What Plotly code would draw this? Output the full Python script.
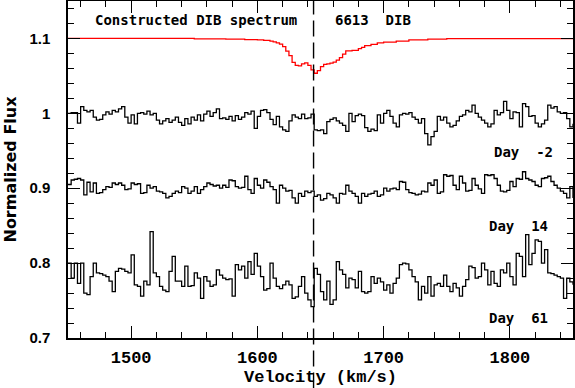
import numpy as np
import plotly.graph_objects as go

# velocity grid of the observed spectra (bin start, km/s)
velocity = np.arange(1450, 1850.1, 2.5)

day_m2 = [
    1.000, 1.001, 1.001, 0.987, 1.009, 1.004, 1.002, 1.004, 0.995, 0.991,
    0.992, 0.998, 1.002, 0.999, 1.004, 1.002, 1.006, 1.009, 0.995, 0.987,
    0.998, 0.986, 1.000, 1.001, 0.999, 1.003, 0.998, 1.000, 0.991, 0.986,
    0.990, 0.993, 0.988, 0.991, 0.995, 0.988, 0.984, 0.993, 0.986, 0.995,
    0.991, 0.998, 0.990, 0.999, 1.003, 0.996, 1.001, 1.006, 0.993, 0.994,
    0.992, 0.996, 0.990, 0.997, 0.992, 0.995, 1.001, 0.999, 1.003, 0.980,
    0.996, 1.004, 1.005, 1.001, 0.992, 0.985, 0.996, 0.982, 0.978, 0.976,
    0.990, 0.998, 0.995, 0.993, 0.999, 0.993, 0.994, 0.999, 0.978, 0.977,
    0.978, 0.973, 0.989, 0.992, 0.994, 0.990, 0.987, 0.984, 0.976, 1.000,
    0.989, 0.997, 0.999, 0.997, 0.981, 0.976, 0.979, 0.977, 0.998, 0.987,
    1.000, 1.004, 0.996, 0.987, 0.982, 0.998, 1.000, 0.999, 1.001, 0.995,
    0.992, 0.987, 0.993, 0.973, 0.958, 0.969, 0.976, 0.996, 0.991, 0.995,
    0.987, 0.982, 0.984, 0.990, 0.996, 0.998, 1.004, 1.002, 1.011, 1.000,
    0.995, 0.991, 0.987, 0.982, 0.986, 1.004, 0.998, 1.001, 1.016, 1.004,
    0.993, 1.002, 1.001, 0.982, 1.013, 1.009, 0.996, 0.997, 0.987, 0.982,
    0.986, 0.991, 1.011, 1.007, 1.009, 1.002, 1.000, 1.001, 0.993, 0.982,
    0.986,
]

day_14 = [
    0.905, 0.911, 0.912, 0.913, 0.911, 0.891, 0.908, 0.895, 0.907, 0.893,
    0.894, 0.898, 0.902, 0.901, 0.907, 0.905, 0.907, 0.904, 0.898, 0.899,
    0.907, 0.905, 0.906, 0.893, 0.894, 0.904, 0.900, 0.902, 0.896, 0.895,
    0.893, 0.887, 0.889, 0.893, 0.896, 0.894, 0.902, 0.900, 0.893, 0.896,
    0.902, 0.893, 0.898, 0.902, 0.907, 0.905, 0.903, 0.904, 0.900, 0.904,
    0.901, 0.911, 0.910, 0.902, 0.900, 0.901, 0.916, 0.898, 0.893, 0.913,
    0.904, 0.900, 0.911, 0.908, 0.902, 0.898, 0.880, 0.904, 0.900, 0.896,
    0.897, 0.887, 0.880, 0.893, 0.889, 0.896, 0.894, 0.896, 0.889, 0.891,
    0.884, 0.886, 0.893, 0.891, 0.887, 0.880, 0.893, 0.892, 0.904, 0.896,
    0.893, 0.889, 0.880, 0.893, 0.889, 0.892, 0.893, 0.896, 0.889, 0.891,
    0.900, 0.896, 0.899, 0.900, 0.898, 0.909, 0.908, 0.898, 0.894, 0.893,
    0.891, 0.892, 0.896, 0.895, 0.907, 0.904, 0.911, 0.893, 0.895, 0.918,
    0.916, 0.917, 0.904, 0.898, 0.916, 0.907, 0.896, 0.897, 0.913, 0.904,
    0.899, 0.893, 0.918, 0.917, 0.918, 0.913, 0.904, 0.896, 0.895, 0.897,
    0.909, 0.902, 0.913, 0.912, 0.922, 0.913, 0.911, 0.909, 0.904, 0.902,
    0.913, 0.914, 0.916, 0.909, 0.904, 0.900, 0.896, 0.893, 0.887, 0.902,
    0.887,
]

day_61 = [
    0.800, 0.780, 0.800, 0.773, 0.800, 0.760, 0.758, 0.782, 0.800, 0.787,
    0.786, 0.784, 0.782, 0.776, 0.762, 0.789, 0.793, 0.792, 0.789, 0.787,
    0.811, 0.771, 0.769, 0.756, 0.776, 0.771, 0.842, 0.787, 0.782, 0.769,
    0.764, 0.762, 0.789, 0.809, 0.776, 0.776, 0.769, 0.796, 0.769, 0.770,
    0.787, 0.780, 0.753, 0.782, 0.776, 0.769, 0.771, 0.791, 0.784, 0.780,
    0.778, 0.779, 0.756, 0.798, 0.791, 0.796, 0.780, 0.802, 0.785, 0.813,
    0.796, 0.782, 0.764, 0.766, 0.800, 0.780, 0.769, 0.766, 0.771, 0.776,
    0.771, 0.753, 0.755, 0.769, 0.782, 0.760, 0.751, 0.742, 0.793, 0.785,
    0.762, 0.751, 0.776, 0.745, 0.751, 0.802, 0.791, 0.785, 0.767, 0.780,
    0.778, 0.767, 0.789, 0.762, 0.760, 0.762, 0.782, 0.773, 0.780, 0.775,
    0.764, 0.771, 0.760, 0.773, 0.780, 0.798, 0.800, 0.799, 0.791, 0.782,
    0.775, 0.751, 0.769, 0.760, 0.782, 0.756, 0.771, 0.773, 0.769, 0.784,
    0.769, 0.762, 0.773, 0.767, 0.756, 0.769, 0.778, 0.796, 0.794, 0.780,
    0.782, 0.800, 0.791, 0.771, 0.789, 0.773, 0.769, 0.791, 0.787, 0.800,
    0.782, 0.771, 0.813, 0.809, 0.782, 0.838, 0.798, 0.813, 0.831, 0.829,
    0.800, 0.818, 0.787, 0.786, 0.784, 0.782, 0.780, 0.753, 0.780, 0.775,
    0.771,
]

# constructed DIB model (offset to 1.1)
dib_velocity = [1450, 1550, 1575, 1590, 1600, 1605, 1610, 1612.5, 1615, 1617.5,
                1620, 1622.5, 1625, 1627.5, 1630, 1632.5, 1635, 1637.5, 1640, 1642.5,
                1645, 1647.5, 1650, 1652.5, 1655, 1657.5, 1660, 1662.5, 1665, 1667.5,
                1670, 1675, 1680, 1682.5, 1685, 1690, 1695, 1700, 1710, 1720,
                1735, 1750, 1850]
dib_flux = [1.100, 1.0995, 1.099, 1.0985, 1.098, 1.0975, 1.0965, 1.0955, 1.094, 1.0925,
            1.089, 1.083, 1.077, 1.068, 1.064, 1.0635, 1.066, 1.0675, 1.064, 1.058,
            1.0535, 1.057, 1.0625, 1.0655, 1.066, 1.067, 1.0685, 1.071, 1.0745, 1.079,
            1.0835, 1.084, 1.0865, 1.088, 1.0905, 1.092, 1.094, 1.095, 1.0965, 1.098,
            1.099, 1.0997, 1.100]

dib_center = 1644.5

MONO = "DejaVu Sans Mono"
SERIF_MONO = "Liberation Mono"

fig = go.Figure()

fig.add_trace(go.Scatter(x=dib_velocity, y=dib_flux, mode="lines",
                         line=dict(color="#ff0000", width=1.3, shape="hv")))
for spec in (day_m2, day_14, day_61):
    fig.add_trace(go.Scatter(x=velocity, y=spec, mode="lines",
                             line=dict(color="black", width=1.3, shape="hv")))

# rest velocity of the DIB
fig.add_shape(type="line", xref="x", yref="paper", x0=dib_center, x1=dib_center,
              y0=-0.15, y1=1, line=dict(color="black", width=1.4, dash="16px,6px"))

labels = [
    ("Constructed DIB spectrum", 1469.8, 1.124, "left"),
    ("6613\u00a0\u00a0DIB", 1660, 1.124, "left"),
    ("Day\u00a0\u00a0-2", 1836, 0.949, "right"),
    ("Day\u00a0\u00a014", 1832, 0.849, "right"),
    ("Day\u00a0\u00a061", 1832, 0.727, "right"),
]
for text, x, y, anchor in labels:
    fig.add_annotation(text=text, x=x, y=y, xref="x", yref="y", xanchor=anchor,
                       yanchor="middle", showarrow=False,
                       font=dict(family=MONO, size=14, color="black", weight="bold"))

axis_common = dict(
    showgrid=False, zeroline=False, showline=True, linecolor="black", linewidth=1.5,
    mirror="allticks", ticks="inside", tickcolor="black", tickwidth=1.3,
    automargin=False,
)

fig.update_xaxes(range=[1450, 1850], tick0=1500, dtick=100, ticklen=12,
                 minor=dict(dtick=20, ticklen=6, ticks="inside", tickcolor="black", tickwidth=1.2),
                 ticklabelstandoff=3,
                 tickfont=dict(family=SERIF_MONO, size=17, color="black", weight="bold"),
                 title=dict(text="Velocity (km/s)", standoff=2,
                            font=dict(family=SERIF_MONO, size=17, color="black", weight="bold")),
                 **axis_common)
fig.update_yaxes(range=[0.7, 1.15], tick0=0.7, dtick=0.1, ticklen=12,
                 minor=dict(dtick=0.02, ticklen=6, ticks="inside", tickcolor="black", tickwidth=1.2),
                 ticklabelstandoff=13,
                 tickfont=dict(family="Liberation Sans", size=15, color="black", weight="bold"),
                 title=dict(text="Normalized Flux", standoff=9,
                            font=dict(family="DejaVu Sans", size=16, color="black", weight="bold")),
                 **axis_common)

fig.update_layout(
    width=575, height=388,
    margin=dict(l=68, r=2, t=1, b=50),
    plot_bgcolor="white", paper_bgcolor="white",
    showlegend=False,
)

# drop the default page margin so the figure sits at the window origin
fig.write_html("out.html", config={"displayModeBar": False},
               post_script="document.body.style.margin='0';")
